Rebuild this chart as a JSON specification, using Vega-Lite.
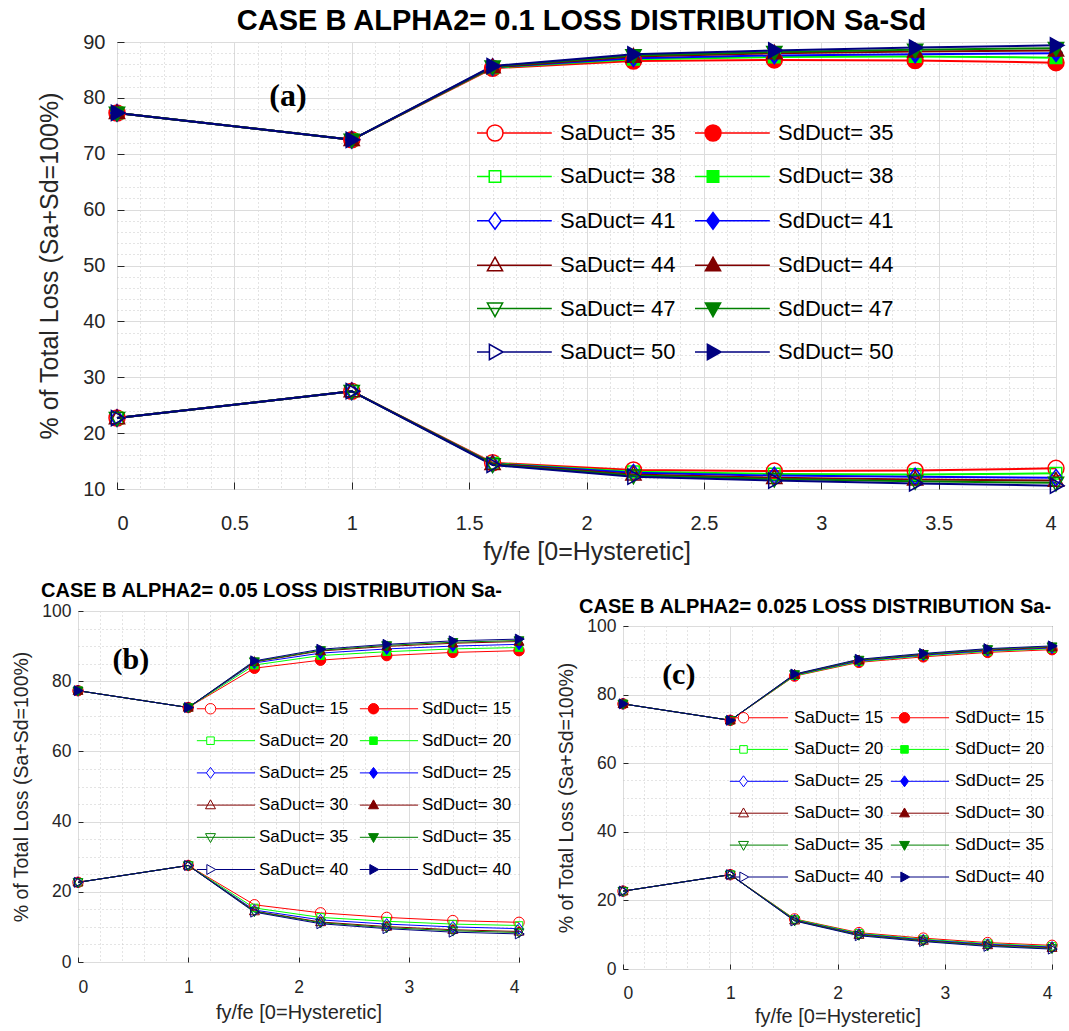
{
"$schema": "https://vega.github.io/schema/vega-lite/v6.json",
"padding": {"left": 11, "top": 6, "right": 0, "bottom": 0},
"config": {
  "font": "Liberation Sans",
  "view": {"stroke": "#262626", "strokeWidth": 1},
  "axis": {"labelFont": "Liberation Sans", "titleFont": "Liberation Sans", "labelColor": "#262626", "titleColor": "#262626", "titleFontWeight": "normal", "domain": false, "tickColor": "#262626", "gridOpacity": 1, "labelOverlap": false, "minExtent": 0},
  "legend": {"labelFont": "Liberation Sans", "labelColor": "#000000"},
  "title": {"font": "Liberation Sans", "fontWeight": "bold", "color": "#000000"}
},
"datasets": {
"a": [
{"x":0,"s":"SaDuct= 35","y":22.7},{"x":1,"s":"SaDuct= 35","y":27.5},{"x":1.6,"s":"SaDuct= 35","y":14.7},{"x":2.2,"s":"SaDuct= 35","y":13.4},{"x":2.8,"s":"SaDuct= 35","y":13.2},{"x":3.4,"s":"SaDuct= 35","y":13.3},{"x":4,"s":"SaDuct= 35","y":13.7},
{"x":0,"s":"SdDuct= 35","y":77.3},{"x":1,"s":"SdDuct= 35","y":72.5},{"x":1.6,"s":"SdDuct= 35","y":85.3},{"x":2.2,"s":"SdDuct= 35","y":86.6},{"x":2.8,"s":"SdDuct= 35","y":86.8},{"x":3.4,"s":"SdDuct= 35","y":86.7},{"x":4,"s":"SdDuct= 35","y":86.3},
{"x":0,"s":"SaDuct= 38","y":22.7},{"x":1,"s":"SaDuct= 38","y":27.5},{"x":1.6,"s":"SaDuct= 38","y":14.6},{"x":2.2,"s":"SaDuct= 38","y":13.1},{"x":2.8,"s":"SaDuct= 38","y":12.7},{"x":3.4,"s":"SaDuct= 38","y":12.6},{"x":4,"s":"SaDuct= 38","y":12.8},
{"x":0,"s":"SdDuct= 38","y":77.3},{"x":1,"s":"SdDuct= 38","y":72.5},{"x":1.6,"s":"SdDuct= 38","y":85.4},{"x":2.2,"s":"SdDuct= 38","y":86.9},{"x":2.8,"s":"SdDuct= 38","y":87.3},{"x":3.4,"s":"SdDuct= 38","y":87.4},{"x":4,"s":"SdDuct= 38","y":87.2},
{"x":0,"s":"SaDuct= 41","y":22.7},{"x":1,"s":"SaDuct= 41","y":27.5},{"x":1.6,"s":"SaDuct= 41","y":14.5},{"x":2.2,"s":"SaDuct= 41","y":12.9},{"x":2.8,"s":"SaDuct= 41","y":12.4},{"x":3.4,"s":"SaDuct= 41","y":12.2},{"x":4,"s":"SaDuct= 41","y":12.0},
{"x":0,"s":"SdDuct= 41","y":77.3},{"x":1,"s":"SdDuct= 41","y":72.5},{"x":1.6,"s":"SdDuct= 41","y":85.5},{"x":2.2,"s":"SdDuct= 41","y":87.1},{"x":2.8,"s":"SdDuct= 41","y":87.6},{"x":3.4,"s":"SdDuct= 41","y":87.8},{"x":4,"s":"SdDuct= 41","y":88.0},
{"x":0,"s":"SaDuct= 44","y":22.7},{"x":1,"s":"SaDuct= 44","y":27.5},{"x":1.6,"s":"SaDuct= 44","y":14.5},{"x":2.2,"s":"SaDuct= 44","y":12.6},{"x":2.8,"s":"SaDuct= 44","y":12.0},{"x":3.4,"s":"SaDuct= 44","y":11.7},{"x":4,"s":"SaDuct= 44","y":11.5},
{"x":0,"s":"SdDuct= 44","y":77.3},{"x":1,"s":"SdDuct= 44","y":72.5},{"x":1.6,"s":"SdDuct= 44","y":85.5},{"x":2.2,"s":"SdDuct= 44","y":87.4},{"x":2.8,"s":"SdDuct= 44","y":88.0},{"x":3.4,"s":"SdDuct= 44","y":88.3},{"x":4,"s":"SdDuct= 44","y":88.5},
{"x":0,"s":"SaDuct= 47","y":22.7},{"x":1,"s":"SaDuct= 47","y":27.5},{"x":1.6,"s":"SaDuct= 47","y":14.4},{"x":2.2,"s":"SaDuct= 47","y":12.4},{"x":2.8,"s":"SaDuct= 47","y":11.8},{"x":3.4,"s":"SaDuct= 47","y":11.4},{"x":4,"s":"SaDuct= 47","y":11.1},
{"x":0,"s":"SdDuct= 47","y":77.3},{"x":1,"s":"SdDuct= 47","y":72.5},{"x":1.6,"s":"SdDuct= 47","y":85.6},{"x":2.2,"s":"SdDuct= 47","y":87.6},{"x":2.8,"s":"SdDuct= 47","y":88.2},{"x":3.4,"s":"SdDuct= 47","y":88.6},{"x":4,"s":"SdDuct= 47","y":88.9},
{"x":0,"s":"SaDuct= 50","y":22.7},{"x":1,"s":"SaDuct= 50","y":27.5},{"x":1.6,"s":"SaDuct= 50","y":14.3},{"x":2.2,"s":"SaDuct= 50","y":12.2},{"x":2.8,"s":"SaDuct= 50","y":11.5},{"x":3.4,"s":"SaDuct= 50","y":11.0},{"x":4,"s":"SaDuct= 50","y":10.6},
{"x":0,"s":"SdDuct= 50","y":77.3},{"x":1,"s":"SdDuct= 50","y":72.5},{"x":1.6,"s":"SdDuct= 50","y":85.7},{"x":2.2,"s":"SdDuct= 50","y":87.8},{"x":2.8,"s":"SdDuct= 50","y":88.5},{"x":3.4,"s":"SdDuct= 50","y":89.0},{"x":4,"s":"SdDuct= 50","y":89.4}
],
"b": [
{"x":0,"s":"SaDuct= 15","y":22.7},{"x":1,"s":"SaDuct= 15","y":27.5},{"x":1.6,"s":"SaDuct= 15","y":16.3},{"x":2.2,"s":"SaDuct= 15","y":14.0},{"x":2.8,"s":"SaDuct= 15","y":12.7},{"x":3.4,"s":"SaDuct= 15","y":11.8},{"x":4,"s":"SaDuct= 15","y":11.3},
{"x":0,"s":"SdDuct= 15","y":77.3},{"x":1,"s":"SdDuct= 15","y":72.5},{"x":1.6,"s":"SdDuct= 15","y":83.7},{"x":2.2,"s":"SdDuct= 15","y":86.0},{"x":2.8,"s":"SdDuct= 15","y":87.3},{"x":3.4,"s":"SdDuct= 15","y":88.2},{"x":4,"s":"SdDuct= 15","y":88.7},
{"x":0,"s":"SaDuct= 20","y":22.7},{"x":1,"s":"SaDuct= 20","y":27.5},{"x":1.6,"s":"SaDuct= 20","y":15.4},{"x":2.2,"s":"SaDuct= 20","y":12.7},{"x":2.8,"s":"SaDuct= 20","y":11.6},{"x":3.4,"s":"SaDuct= 20","y":10.8},{"x":4,"s":"SaDuct= 20","y":10.4},
{"x":0,"s":"SdDuct= 20","y":77.3},{"x":1,"s":"SdDuct= 20","y":72.5},{"x":1.6,"s":"SdDuct= 20","y":84.6},{"x":2.2,"s":"SdDuct= 20","y":87.3},{"x":2.8,"s":"SdDuct= 20","y":88.4},{"x":3.4,"s":"SdDuct= 20","y":89.2},{"x":4,"s":"SdDuct= 20","y":89.6},
{"x":0,"s":"SaDuct= 25","y":22.7},{"x":1,"s":"SaDuct= 25","y":27.5},{"x":1.6,"s":"SaDuct= 25","y":14.8},{"x":2.2,"s":"SaDuct= 25","y":12.0},{"x":2.8,"s":"SaDuct= 25","y":10.8},{"x":3.4,"s":"SaDuct= 25","y":10.0},{"x":4,"s":"SaDuct= 25","y":9.5},
{"x":0,"s":"SdDuct= 25","y":77.3},{"x":1,"s":"SdDuct= 25","y":72.5},{"x":1.6,"s":"SdDuct= 25","y":85.2},{"x":2.2,"s":"SdDuct= 25","y":88.0},{"x":2.8,"s":"SdDuct= 25","y":89.2},{"x":3.4,"s":"SdDuct= 25","y":90.0},{"x":4,"s":"SdDuct= 25","y":90.5},
{"x":0,"s":"SaDuct= 30","y":22.7},{"x":1,"s":"SaDuct= 30","y":27.5},{"x":1.6,"s":"SaDuct= 30","y":14.5},{"x":2.2,"s":"SaDuct= 30","y":11.4},{"x":2.8,"s":"SaDuct= 30","y":10.1},{"x":3.4,"s":"SaDuct= 30","y":9.2},{"x":4,"s":"SaDuct= 30","y":8.7},
{"x":0,"s":"SdDuct= 30","y":77.3},{"x":1,"s":"SdDuct= 30","y":72.5},{"x":1.6,"s":"SdDuct= 30","y":85.5},{"x":2.2,"s":"SdDuct= 30","y":88.6},{"x":2.8,"s":"SdDuct= 30","y":89.9},{"x":3.4,"s":"SdDuct= 30","y":90.8},{"x":4,"s":"SdDuct= 30","y":91.3},
{"x":0,"s":"SaDuct= 35","y":22.7},{"x":1,"s":"SaDuct= 35","y":27.5},{"x":1.6,"s":"SaDuct= 35","y":14.4},{"x":2.2,"s":"SaDuct= 35","y":11.2},{"x":2.8,"s":"SaDuct= 35","y":9.8},{"x":3.4,"s":"SaDuct= 35","y":8.9},{"x":4,"s":"SaDuct= 35","y":8.4},
{"x":0,"s":"SdDuct= 35","y":77.3},{"x":1,"s":"SdDuct= 35","y":72.5},{"x":1.6,"s":"SdDuct= 35","y":85.6},{"x":2.2,"s":"SdDuct= 35","y":88.8},{"x":2.8,"s":"SdDuct= 35","y":90.2},{"x":3.4,"s":"SdDuct= 35","y":91.1},{"x":4,"s":"SdDuct= 35","y":91.6},
{"x":0,"s":"SaDuct= 40","y":22.7},{"x":1,"s":"SaDuct= 40","y":27.5},{"x":1.6,"s":"SaDuct= 40","y":14.2},{"x":2.2,"s":"SaDuct= 40","y":10.9},{"x":2.8,"s":"SaDuct= 40","y":9.5},{"x":3.4,"s":"SaDuct= 40","y":8.5},{"x":4,"s":"SaDuct= 40","y":8.0},
{"x":0,"s":"SdDuct= 40","y":77.3},{"x":1,"s":"SdDuct= 40","y":72.5},{"x":1.6,"s":"SdDuct= 40","y":85.8},{"x":2.2,"s":"SdDuct= 40","y":89.1},{"x":2.8,"s":"SdDuct= 40","y":90.5},{"x":3.4,"s":"SdDuct= 40","y":91.5},{"x":4,"s":"SdDuct= 40","y":92.0}
],
"c": [
{"x":0,"s":"SaDuct= 15","y":22.7},{"x":1,"s":"SaDuct= 15","y":27.5},{"x":1.6,"s":"SaDuct= 15","y":14.6},{"x":2.2,"s":"SaDuct= 15","y":10.6},{"x":2.8,"s":"SaDuct= 15","y":9.0},{"x":3.4,"s":"SaDuct= 15","y":7.7},{"x":4,"s":"SaDuct= 15","y":6.9},
{"x":0,"s":"SdDuct= 15","y":77.3},{"x":1,"s":"SdDuct= 15","y":72.5},{"x":1.6,"s":"SdDuct= 15","y":85.4},{"x":2.2,"s":"SdDuct= 15","y":89.4},{"x":2.8,"s":"SdDuct= 15","y":91.0},{"x":3.4,"s":"SdDuct= 15","y":92.3},{"x":4,"s":"SdDuct= 15","y":93.1},
{"x":0,"s":"SaDuct= 20","y":22.7},{"x":1,"s":"SaDuct= 20","y":27.5},{"x":1.6,"s":"SaDuct= 20","y":14.5},{"x":2.2,"s":"SaDuct= 20","y":10.4},{"x":2.8,"s":"SaDuct= 20","y":8.7},{"x":3.4,"s":"SaDuct= 20","y":7.4},{"x":4,"s":"SaDuct= 20","y":6.6},
{"x":0,"s":"SdDuct= 20","y":77.3},{"x":1,"s":"SdDuct= 20","y":72.5},{"x":1.6,"s":"SdDuct= 20","y":85.5},{"x":2.2,"s":"SdDuct= 20","y":89.6},{"x":2.8,"s":"SdDuct= 20","y":91.3},{"x":3.4,"s":"SdDuct= 20","y":92.6},{"x":4,"s":"SdDuct= 20","y":93.4},
{"x":0,"s":"SaDuct= 25","y":22.7},{"x":1,"s":"SaDuct= 25","y":27.5},{"x":1.6,"s":"SaDuct= 25","y":14.3},{"x":2.2,"s":"SaDuct= 25","y":10.2},{"x":2.8,"s":"SaDuct= 25","y":8.5},{"x":3.4,"s":"SaDuct= 25","y":7.2},{"x":4,"s":"SaDuct= 25","y":6.4},
{"x":0,"s":"SdDuct= 25","y":77.3},{"x":1,"s":"SdDuct= 25","y":72.5},{"x":1.6,"s":"SdDuct= 25","y":85.7},{"x":2.2,"s":"SdDuct= 25","y":89.8},{"x":2.8,"s":"SdDuct= 25","y":91.5},{"x":3.4,"s":"SdDuct= 25","y":92.8},{"x":4,"s":"SdDuct= 25","y":93.6},
{"x":0,"s":"SaDuct= 30","y":22.7},{"x":1,"s":"SaDuct= 30","y":27.5},{"x":1.6,"s":"SaDuct= 30","y":14.2},{"x":2.2,"s":"SaDuct= 30","y":10.0},{"x":2.8,"s":"SaDuct= 30","y":8.3},{"x":3.4,"s":"SaDuct= 30","y":7.0},{"x":4,"s":"SaDuct= 30","y":6.2},
{"x":0,"s":"SdDuct= 30","y":77.3},{"x":1,"s":"SdDuct= 30","y":72.5},{"x":1.6,"s":"SdDuct= 30","y":85.8},{"x":2.2,"s":"SdDuct= 30","y":90.0},{"x":2.8,"s":"SdDuct= 30","y":91.7},{"x":3.4,"s":"SdDuct= 30","y":93.0},{"x":4,"s":"SdDuct= 30","y":93.8},
{"x":0,"s":"SaDuct= 35","y":22.7},{"x":1,"s":"SaDuct= 35","y":27.5},{"x":1.6,"s":"SaDuct= 35","y":14.1},{"x":2.2,"s":"SaDuct= 35","y":9.9},{"x":2.8,"s":"SaDuct= 35","y":8.2},{"x":3.4,"s":"SaDuct= 35","y":6.8},{"x":4,"s":"SaDuct= 35","y":6.0},
{"x":0,"s":"SdDuct= 35","y":77.3},{"x":1,"s":"SdDuct= 35","y":72.5},{"x":1.6,"s":"SdDuct= 35","y":85.9},{"x":2.2,"s":"SdDuct= 35","y":90.1},{"x":2.8,"s":"SdDuct= 35","y":91.8},{"x":3.4,"s":"SdDuct= 35","y":93.2},{"x":4,"s":"SdDuct= 35","y":94.0},
{"x":0,"s":"SaDuct= 40","y":22.7},{"x":1,"s":"SaDuct= 40","y":27.5},{"x":1.6,"s":"SaDuct= 40","y":14.0},{"x":2.2,"s":"SaDuct= 40","y":9.7},{"x":2.8,"s":"SaDuct= 40","y":8.0},{"x":3.4,"s":"SaDuct= 40","y":6.6},{"x":4,"s":"SaDuct= 40","y":5.8},
{"x":0,"s":"SdDuct= 40","y":77.3},{"x":1,"s":"SdDuct= 40","y":72.5},{"x":1.6,"s":"SdDuct= 40","y":86.0},{"x":2.2,"s":"SdDuct= 40","y":90.3},{"x":2.8,"s":"SdDuct= 40","y":92.0},{"x":3.4,"s":"SdDuct= 40","y":93.4},{"x":4,"s":"SdDuct= 40","y":94.2}
]
},
"spacing": 15,
"vconcat": [
{
"spacing": -42,
"hconcat": [
{"width": 1, "height": 1, "data": {"values": []}, "mark": "point", "view": {"stroke": null}},
{
  "width": 939, "height": 447,
  "data": {"name": "a"},
  "title": {"text": "CASE B ALPHA2= 0.1 LOSS DISTRIBUTION Sa-Sd", "fontSize": 29, "anchor": "middle", "frame": "group", "dx": -5, "offset": -4},
  "resolve": {"scale": {"shape": "independent", "stroke": "independent", "fill": "independent"}},
  "layer": [
    {
      "mark": {"type": "line", "strokeWidth": 2},
      "encoding": {
        "x": {"field": "x", "type": "quantitative", "scale": {"domain": [0, 4], "nice": false, "zero": false},
              "axis": {"values": [0,0.1,0.2,0.3,0.4,0.5,0.6,0.7,0.8,0.9,1,1.1,1.2,1.3,1.4,1.5,1.6,1.7,1.8,1.9,2,2.1,2.2,2.3,2.4,2.5,2.6,2.7,2.8,2.9,3,3.1,3.2,3.3,3.4,3.5,3.6,3.7,3.8,3.9,4], "format": "~g", "labelExpr": "datum.value % 0.5 === 0 ? datum.label : ''", "grid": true, "gridColor": {"condition": {"test": "datum.value % 0.5 !== 0", "value": "#c8c8c8"}, "value": "#dcdcdc"}, "gridDash": {"condition": {"test": "datum.value % 0.5 !== 0", "value": [1, 3]}, "value": []}, "tickOpacity": {"condition": {"test": "datum.value % 0.5 !== 0", "value": 0}, "value": 1}, "tickSize": -7, "labelFontSize": 20, "labelPadding": 31, "title": "fy/fe [0=Hysteretic]", "titleFontSize": 25, "titlePadding": 6}},
        "y": {"field": "y", "type": "quantitative", "scale": {"domain": [10, 90], "nice": false, "zero": false},
              "axis": {"values": [10,12,14,16,18,20,22,24,26,28,30,32,34,36,38,40,42,44,46,48,50,52,54,56,58,60,62,64,66,68,70,72,74,76,78,80,82,84,86,88,90], "labelExpr": "datum.value % 10 === 0 ? datum.label : ''", "grid": true, "gridColor": {"condition": {"test": "datum.value % 10 !== 0", "value": "#c8c8c8"}, "value": "#dcdcdc"}, "gridDash": {"condition": {"test": "datum.value % 10 !== 0", "value": [1, 3]}, "value": []}, "tickOpacity": {"condition": {"test": "datum.value % 10 !== 0", "value": 0}, "value": 1}, "tickSize": -7, "labelFontSize": 20, "labelPadding": 19, "title": "% of Total Loss (Sa+Sd=100%)", "titleFontSize": 25, "titlePadding": 20}},
        "stroke": {"field": "s", "type": "nominal", "legend": null,
          "scale": {"domain": ["SaDuct= 35","SaDuct= 38","SaDuct= 41","SaDuct= 44","SaDuct= 47","SaDuct= 50","SdDuct= 35","SdDuct= 38","SdDuct= 41","SdDuct= 44","SdDuct= 47","SdDuct= 50"],
                    "range": ["#ff0000","#00ff00","#0000ff","#800000","#008000","#000080","#ff0000","#00ff00","#0000ff","#800000","#008000","#000080"]}}
      }
    },
    {
      "mark": {"type": "point", "size": 256, "strokeWidth": 1.5, "opacity": 1},
      "encoding": {
        "x": {"field": "x", "type": "quantitative", "scale": {"domain": [0, 4], "nice": false, "zero": false},
              "axis": {"values": [0,0.1,0.2,0.3,0.4,0.5,0.6,0.7,0.8,0.9,1,1.1,1.2,1.3,1.4,1.5,1.6,1.7,1.8,1.9,2,2.1,2.2,2.3,2.4,2.5,2.6,2.7,2.8,2.9,3,3.1,3.2,3.3,3.4,3.5,3.6,3.7,3.8,3.9,4], "format": "~g", "labelExpr": "datum.value % 0.5 === 0 ? datum.label : ''", "grid": true, "gridColor": {"condition": {"test": "datum.value % 0.5 !== 0", "value": "#c8c8c8"}, "value": "#dcdcdc"}, "gridDash": {"condition": {"test": "datum.value % 0.5 !== 0", "value": [1, 3]}, "value": []}, "tickOpacity": {"condition": {"test": "datum.value % 0.5 !== 0", "value": 0}, "value": 1}, "tickSize": -7, "labelFontSize": 20, "labelPadding": 31, "title": "fy/fe [0=Hysteretic]", "titleFontSize": 25, "titlePadding": 6}},
        "y": {"field": "y", "type": "quantitative", "scale": {"domain": [10, 90], "nice": false, "zero": false},
              "axis": {"values": [10,12,14,16,18,20,22,24,26,28,30,32,34,36,38,40,42,44,46,48,50,52,54,56,58,60,62,64,66,68,70,72,74,76,78,80,82,84,86,88,90], "labelExpr": "datum.value % 10 === 0 ? datum.label : ''", "grid": true, "gridColor": {"condition": {"test": "datum.value % 10 !== 0", "value": "#c8c8c8"}, "value": "#dcdcdc"}, "gridDash": {"condition": {"test": "datum.value % 10 !== 0", "value": [1, 3]}, "value": []}, "tickOpacity": {"condition": {"test": "datum.value % 10 !== 0", "value": 0}, "value": 1}, "tickSize": -7, "labelFontSize": 20, "labelPadding": 19, "title": "% of Total Loss (Sa+Sd=100%)", "titleFontSize": 25, "titlePadding": 20}},
        "shape": {"field": "s", "type": "nominal", "legend": null,
          "scale": {"domain": ["SaDuct= 35","SaDuct= 38","SaDuct= 41","SaDuct= 44","SaDuct= 47","SaDuct= 50","SdDuct= 35","SdDuct= 38","SdDuct= 41","SdDuct= 44","SdDuct= 47","SdDuct= 50"],
                    "range": ["M1,0A1,1,0,1,1,-1,0A1,1,0,1,1,1,0Z","M-0.72,-0.72L0.72,-0.72L0.72,0.72L-0.72,0.72Z","M0,-1.05L0.78,0L0,1.05L-0.78,0Z","M0,-1L0.95,0.7L-0.95,0.7Z","M0,1L0.95,-0.7L-0.95,-0.7Z","M1,0L-0.7,-0.95L-0.7,0.95Z","M1,0A1,1,0,1,1,-1,0A1,1,0,1,1,1,0Z","M-0.72,-0.72L0.72,-0.72L0.72,0.72L-0.72,0.72Z","M0,-1.05L0.78,0L0,1.05L-0.78,0Z","M0,-1L0.95,0.7L-0.95,0.7Z","M0,1L0.95,-0.7L-0.95,-0.7Z","M1,0L-0.7,-0.95L-0.7,0.95Z"]}},
        "stroke": {"field": "s", "type": "nominal", "legend": null,
          "scale": {"domain": ["SaDuct= 35","SaDuct= 38","SaDuct= 41","SaDuct= 44","SaDuct= 47","SaDuct= 50","SdDuct= 35","SdDuct= 38","SdDuct= 41","SdDuct= 44","SdDuct= 47","SdDuct= 50"],
                    "range": ["#ff0000","#00ff00","#0000ff","#800000","#008000","#000080","#ff0000","#00ff00","#0000ff","#800000","#008000","#000080"]}},
        "fill": {"field": "s", "type": "nominal", "legend": null,
          "scale": {"domain": ["SaDuct= 35","SaDuct= 38","SaDuct= 41","SaDuct= 44","SaDuct= 47","SaDuct= 50","SdDuct= 35","SdDuct= 38","SdDuct= 41","SdDuct= 44","SdDuct= 47","SdDuct= 50"],
                    "range": ["transparent","transparent","transparent","transparent","transparent","transparent","#ff0000","#00ff00","#0000ff","#800000","#008000","#000080"]}}
      }
    },
    {
      "transform": [{"filter": "datum.x > 100"}],
      "mark": {"type": "point", "size": 256, "strokeWidth": 1.5, "opacity": 1},
      "encoding": {
        "x": {"field": "x", "type": "quantitative", "scale": {"domain": [0, 4], "nice": false, "zero": false},
              "axis": {"values": [0,0.1,0.2,0.3,0.4,0.5,0.6,0.7,0.8,0.9,1,1.1,1.2,1.3,1.4,1.5,1.6,1.7,1.8,1.9,2,2.1,2.2,2.3,2.4,2.5,2.6,2.7,2.8,2.9,3,3.1,3.2,3.3,3.4,3.5,3.6,3.7,3.8,3.9,4], "format": "~g", "labelExpr": "datum.value % 0.5 === 0 ? datum.label : ''", "grid": true, "gridColor": {"condition": {"test": "datum.value % 0.5 !== 0", "value": "#c8c8c8"}, "value": "#dcdcdc"}, "gridDash": {"condition": {"test": "datum.value % 0.5 !== 0", "value": [1, 3]}, "value": []}, "tickOpacity": {"condition": {"test": "datum.value % 0.5 !== 0", "value": 0}, "value": 1}, "tickSize": -7, "labelFontSize": 20, "labelPadding": 31, "title": "fy/fe [0=Hysteretic]", "titleFontSize": 25, "titlePadding": 6}},
        "y": {"field": "y", "type": "quantitative", "scale": {"domain": [10, 90], "nice": false, "zero": false},
              "axis": {"values": [10,12,14,16,18,20,22,24,26,28,30,32,34,36,38,40,42,44,46,48,50,52,54,56,58,60,62,64,66,68,70,72,74,76,78,80,82,84,86,88,90], "labelExpr": "datum.value % 10 === 0 ? datum.label : ''", "grid": true, "gridColor": {"condition": {"test": "datum.value % 10 !== 0", "value": "#c8c8c8"}, "value": "#dcdcdc"}, "gridDash": {"condition": {"test": "datum.value % 10 !== 0", "value": [1, 3]}, "value": []}, "tickOpacity": {"condition": {"test": "datum.value % 10 !== 0", "value": 0}, "value": 1}, "tickSize": -7, "labelFontSize": 20, "labelPadding": 19, "title": "% of Total Loss (Sa+Sd=100%)", "titleFontSize": 25, "titlePadding": 20}},
        "shape": {"field": "s", "type": "nominal",
          "legend": {"title": null, "orient": "none", "legendX": 367, "legendY": 80, "columns": 2, "columnPadding": 16, "rowPadding": 21.4, "labelFontSize": 22, "labelOffset": 54, "symbolSize": 256, "symbolStrokeWidth": 1.5, "symbolOpacity": 1, "padding": 0},
          "scale": {"domain": ["SaDuct= 35","SaDuct= 38","SaDuct= 41","SaDuct= 44","SaDuct= 47","SaDuct= 50","SdDuct= 35","SdDuct= 38","SdDuct= 41","SdDuct= 44","SdDuct= 47","SdDuct= 50"],
                    "range": ["M-2.25,0L-1,0M1,0L7.1,0M1,0A1,1,0,1,1,-1,0A1,1,0,1,1,1,0Z","M-2.25,0L-0.72,0M0.72,0L7.1,0M-0.72,-0.72L0.72,-0.72L0.72,0.72L-0.72,0.72Z","M-2.25,0L-0.78,0M0.78,0L7.1,0M0,-1.05L0.78,0L0,1.05L-0.78,0Z","M-2.25,0L7.1,0M0,-1L0.95,0.7L-0.95,0.7Z","M-2.25,0L7.1,0M0,1L0.95,-0.7L-0.95,-0.7Z","M-2.25,0L-0.7,0M1,0L7.1,0M1,0L-0.7,-0.95L-0.7,0.95Z","M-2.25,0L-1,0M1,0L7.1,0M1,0A1,1,0,1,1,-1,0A1,1,0,1,1,1,0Z","M-2.25,0L-0.72,0M0.72,0L7.1,0M-0.72,-0.72L0.72,-0.72L0.72,0.72L-0.72,0.72Z","M-2.25,0L-0.78,0M0.78,0L7.1,0M0,-1.05L0.78,0L0,1.05L-0.78,0Z","M-2.25,0L7.1,0M0,-1L0.95,0.7L-0.95,0.7Z","M-2.25,0L7.1,0M0,1L0.95,-0.7L-0.95,-0.7Z","M-2.25,0L-0.7,0M1,0L7.1,0M1,0L-0.7,-0.95L-0.7,0.95Z"]}},
        "stroke": {"field": "s", "type": "nominal",
          "legend": {"title": null, "orient": "none", "legendX": 367, "legendY": 80, "columns": 2, "columnPadding": 16, "rowPadding": 21.4, "labelFontSize": 22, "labelOffset": 54, "symbolSize": 256, "symbolStrokeWidth": 1.5, "symbolOpacity": 1, "padding": 0},
          "scale": {"domain": ["SaDuct= 35","SaDuct= 38","SaDuct= 41","SaDuct= 44","SaDuct= 47","SaDuct= 50","SdDuct= 35","SdDuct= 38","SdDuct= 41","SdDuct= 44","SdDuct= 47","SdDuct= 50"],
                    "range": ["#ff0000","#00ff00","#0000ff","#800000","#008000","#000080","#ff0000","#00ff00","#0000ff","#800000","#008000","#000080"]}},
        "fill": {"field": "s", "type": "nominal",
          "legend": {"title": null, "orient": "none", "legendX": 367, "legendY": 80, "columns": 2, "columnPadding": 16, "rowPadding": 21.4, "labelFontSize": 22, "labelOffset": 54, "symbolSize": 256, "symbolStrokeWidth": 1.5, "symbolOpacity": 1, "padding": 0},
          "scale": {"domain": ["SaDuct= 35","SaDuct= 38","SaDuct= 41","SaDuct= 44","SaDuct= 47","SaDuct= 50","SdDuct= 35","SdDuct= 38","SdDuct= 41","SdDuct= 44","SdDuct= 47","SdDuct= 50"],
                    "range": ["transparent","transparent","transparent","transparent","transparent","transparent","#ff0000","#00ff00","#0000ff","#800000","#008000","#000080"]}}
      }
    },
    {
      "data": {"values": [{"label": "(a)"}]},
      "mark": {"type": "text", "font": "Liberation Serif", "fontWeight": "bold", "fontSize": 32, "color": "#000000"},
      "encoding": {
        "x": {"datum": 0.728, "type": "quantitative", "scale": {"domain": [0, 4], "nice": false, "zero": false},
              "axis": {"values": [0,0.1,0.2,0.3,0.4,0.5,0.6,0.7,0.8,0.9,1,1.1,1.2,1.3,1.4,1.5,1.6,1.7,1.8,1.9,2,2.1,2.2,2.3,2.4,2.5,2.6,2.7,2.8,2.9,3,3.1,3.2,3.3,3.4,3.5,3.6,3.7,3.8,3.9,4], "format": "~g", "labelExpr": "datum.value % 0.5 === 0 ? datum.label : ''", "grid": true, "gridColor": {"condition": {"test": "datum.value % 0.5 !== 0", "value": "#c8c8c8"}, "value": "#dcdcdc"}, "gridDash": {"condition": {"test": "datum.value % 0.5 !== 0", "value": [1, 3]}, "value": []}, "tickOpacity": {"condition": {"test": "datum.value % 0.5 !== 0", "value": 0}, "value": 1}, "tickSize": -7, "labelFontSize": 20, "labelPadding": 31, "title": "fy/fe [0=Hysteretic]", "titleFontSize": 25, "titlePadding": 6}},
        "y": {"datum": 80.3, "type": "quantitative", "scale": {"domain": [10, 90], "nice": false, "zero": false},
              "axis": {"values": [10,12,14,16,18,20,22,24,26,28,30,32,34,36,38,40,42,44,46,48,50,52,54,56,58,60,62,64,66,68,70,72,74,76,78,80,82,84,86,88,90], "labelExpr": "datum.value % 10 === 0 ? datum.label : ''", "grid": true, "gridColor": {"condition": {"test": "datum.value % 10 !== 0", "value": "#c8c8c8"}, "value": "#dcdcdc"}, "gridDash": {"condition": {"test": "datum.value % 10 !== 0", "value": [1, 3]}, "value": []}, "tickOpacity": {"condition": {"test": "datum.value % 10 !== 0", "value": 0}, "value": 1}, "tickSize": -7, "labelFontSize": 20, "labelPadding": 19, "title": "% of Total Loss (Sa+Sd=100%)", "titleFontSize": 25, "titlePadding": 20}},
        "text": {"field": "label", "type": "nominal"}
      }
    }
  ]
}
]
},
{
  "spacing": 29,
  "hconcat": [
  {
    "width": 441, "height": 351,
    "data": {"name": "b"},
    "title": {"text": "CASE B ALPHA2= 0.05 LOSS DISTRIBUTION Sa-", "fontSize": 20, "anchor": "start", "frame": "group", "dx": -37, "offset": 1},
    "resolve": {"scale": {"shape": "independent", "stroke": "independent", "fill": "independent"}},
    "layer": [
      {
        "mark": {"type": "line", "strokeWidth": 1},
        "encoding": {
          "x": {"field": "x", "type": "quantitative", "scale": {"domain": [0, 4], "nice": false, "zero": false},
                "axis": {"values": [0,0.2,0.4,0.6,0.8,1,1.2,1.4,1.6,1.8,2,2.2,2.4,2.6,2.8,3,3.2,3.4,3.6,3.8,4], "format": "~g", "labelExpr": "datum.value % 1 === 0 ? datum.label : ''", "grid": true, "gridColor": {"condition": {"test": "datum.value % 1 !== 0", "value": "#c8c8c8"}, "value": "#dcdcdc"}, "gridDash": {"condition": {"test": "datum.value % 1 !== 0", "value": [1, 3]}, "value": []}, "tickOpacity": {"condition": {"test": "datum.value % 1 !== 0", "value": 0}, "value": 1}, "tickSize": -5, "labelFontSize": 17.5, "labelPadding": 21, "title": "fy/fe [0=Hysteretic]", "titleFontSize": 20, "titlePadding": 7}},
          "y": {"field": "y", "type": "quantitative", "scale": {"domain": [0, 100], "nice": false, "zero": false},
                "axis": {"values": [0,5,10,15,20,25,30,35,40,45,50,55,60,65,70,75,80,85,90,95,100], "labelExpr": "datum.value % 20 === 0 ? datum.label : ''", "grid": true, "gridColor": {"condition": {"test": "datum.value % 20 !== 0", "value": "#c8c8c8"}, "value": "#dcdcdc"}, "gridDash": {"condition": {"test": "datum.value % 20 !== 0", "value": [1, 3]}, "value": []}, "tickOpacity": {"condition": {"test": "datum.value % 20 !== 0", "value": 0}, "value": 1}, "tickSize": -5, "labelFontSize": 17.5, "labelPadding": 12, "title": "% of Total Loss (Sa+Sd=100%)", "titleFontSize": 19.5, "titlePadding": 10}},
          "stroke": {"field": "s", "type": "nominal", "legend": null,
            "scale": {"domain": ["SaDuct= 15","SaDuct= 20","SaDuct= 25","SaDuct= 30","SaDuct= 35","SaDuct= 40","SdDuct= 15","SdDuct= 20","SdDuct= 25","SdDuct= 30","SdDuct= 35","SdDuct= 40"],
                      "range": ["#ff0000","#00ff00","#0000ff","#800000","#008000","#000080","#ff0000","#00ff00","#0000ff","#800000","#008000","#000080"]}}
        }
      },
      {
        "mark": {"type": "point", "size": 110, "strokeWidth": 1, "opacity": 1},
        "encoding": {
          "x": {"field": "x", "type": "quantitative", "scale": {"domain": [0, 4], "nice": false, "zero": false},
                "axis": {"values": [0,0.2,0.4,0.6,0.8,1,1.2,1.4,1.6,1.8,2,2.2,2.4,2.6,2.8,3,3.2,3.4,3.6,3.8,4], "format": "~g", "labelExpr": "datum.value % 1 === 0 ? datum.label : ''", "grid": true, "gridColor": {"condition": {"test": "datum.value % 1 !== 0", "value": "#c8c8c8"}, "value": "#dcdcdc"}, "gridDash": {"condition": {"test": "datum.value % 1 !== 0", "value": [1, 3]}, "value": []}, "tickOpacity": {"condition": {"test": "datum.value % 1 !== 0", "value": 0}, "value": 1}, "tickSize": -5, "labelFontSize": 17.5, "labelPadding": 21, "title": "fy/fe [0=Hysteretic]", "titleFontSize": 20, "titlePadding": 7}},
          "y": {"field": "y", "type": "quantitative", "scale": {"domain": [0, 100], "nice": false, "zero": false},
                "axis": {"values": [0,5,10,15,20,25,30,35,40,45,50,55,60,65,70,75,80,85,90,95,100], "labelExpr": "datum.value % 20 === 0 ? datum.label : ''", "grid": true, "gridColor": {"condition": {"test": "datum.value % 20 !== 0", "value": "#c8c8c8"}, "value": "#dcdcdc"}, "gridDash": {"condition": {"test": "datum.value % 20 !== 0", "value": [1, 3]}, "value": []}, "tickOpacity": {"condition": {"test": "datum.value % 20 !== 0", "value": 0}, "value": 1}, "tickSize": -5, "labelFontSize": 17.5, "labelPadding": 12, "title": "% of Total Loss (Sa+Sd=100%)", "titleFontSize": 19.5, "titlePadding": 10}},
          "shape": {"field": "s", "type": "nominal", "legend": null,
            "scale": {"domain": ["SaDuct= 15","SaDuct= 20","SaDuct= 25","SaDuct= 30","SaDuct= 35","SaDuct= 40","SdDuct= 15","SdDuct= 20","SdDuct= 25","SdDuct= 30","SdDuct= 35","SdDuct= 40"],
                      "range": ["M1,0A1,1,0,1,1,-1,0A1,1,0,1,1,1,0Z","M-0.72,-0.72L0.72,-0.72L0.72,0.72L-0.72,0.72Z","M0,-1.05L0.78,0L0,1.05L-0.78,0Z","M0,-1L0.95,0.7L-0.95,0.7Z","M0,1L0.95,-0.7L-0.95,-0.7Z","M1,0L-0.7,-0.95L-0.7,0.95Z","M1,0A1,1,0,1,1,-1,0A1,1,0,1,1,1,0Z","M-0.72,-0.72L0.72,-0.72L0.72,0.72L-0.72,0.72Z","M0,-1.05L0.78,0L0,1.05L-0.78,0Z","M0,-1L0.95,0.7L-0.95,0.7Z","M0,1L0.95,-0.7L-0.95,-0.7Z","M1,0L-0.7,-0.95L-0.7,0.95Z"]}},
          "stroke": {"field": "s", "type": "nominal", "legend": null,
            "scale": {"domain": ["SaDuct= 15","SaDuct= 20","SaDuct= 25","SaDuct= 30","SaDuct= 35","SaDuct= 40","SdDuct= 15","SdDuct= 20","SdDuct= 25","SdDuct= 30","SdDuct= 35","SdDuct= 40"],
                      "range": ["#ff0000","#00ff00","#0000ff","#800000","#008000","#000080","#ff0000","#00ff00","#0000ff","#800000","#008000","#000080"]}},
          "fill": {"field": "s", "type": "nominal", "legend": null,
            "scale": {"domain": ["SaDuct= 15","SaDuct= 20","SaDuct= 25","SaDuct= 30","SaDuct= 35","SaDuct= 40","SdDuct= 15","SdDuct= 20","SdDuct= 25","SdDuct= 30","SdDuct= 35","SdDuct= 40"],
                      "range": ["transparent","transparent","transparent","transparent","transparent","transparent","#ff0000","#00ff00","#0000ff","#800000","#008000","#000080"]}}
        }
      },
      {
        "transform": [{"filter": "datum.x > 100"}],
        "mark": {"type": "point", "size": 110, "strokeWidth": 1, "opacity": 1},
        "encoding": {
          "x": {"field": "x", "type": "quantitative", "scale": {"domain": [0, 4], "nice": false, "zero": false},
                "axis": {"values": [0,0.2,0.4,0.6,0.8,1,1.2,1.4,1.6,1.8,2,2.2,2.4,2.6,2.8,3,3.2,3.4,3.6,3.8,4], "format": "~g", "labelExpr": "datum.value % 1 === 0 ? datum.label : ''", "grid": true, "gridColor": {"condition": {"test": "datum.value % 1 !== 0", "value": "#c8c8c8"}, "value": "#dcdcdc"}, "gridDash": {"condition": {"test": "datum.value % 1 !== 0", "value": [1, 3]}, "value": []}, "tickOpacity": {"condition": {"test": "datum.value % 1 !== 0", "value": 0}, "value": 1}, "tickSize": -5, "labelFontSize": 17.5, "labelPadding": 21, "title": "fy/fe [0=Hysteretic]", "titleFontSize": 20, "titlePadding": 7}},
          "y": {"field": "y", "type": "quantitative", "scale": {"domain": [0, 100], "nice": false, "zero": false},
                "axis": {"values": [0,5,10,15,20,25,30,35,40,45,50,55,60,65,70,75,80,85,90,95,100], "labelExpr": "datum.value % 20 === 0 ? datum.label : ''", "grid": true, "gridColor": {"condition": {"test": "datum.value % 20 !== 0", "value": "#c8c8c8"}, "value": "#dcdcdc"}, "gridDash": {"condition": {"test": "datum.value % 20 !== 0", "value": [1, 3]}, "value": []}, "tickOpacity": {"condition": {"test": "datum.value % 20 !== 0", "value": 0}, "value": 1}, "tickSize": -5, "labelFontSize": 17.5, "labelPadding": 12, "title": "% of Total Loss (Sa+Sd=100%)", "titleFontSize": 19.5, "titlePadding": 10}},
          "shape": {"field": "s", "type": "nominal",
            "legend": {"title": null, "orient": "none", "legendX": 124, "legendY": 89, "columns": 2, "columnPadding": 8, "rowPadding": 14.2, "labelFontSize": 17, "labelOffset": 40, "symbolSize": 110, "symbolStrokeWidth": 1, "symbolOpacity": 1, "padding": 0},
            "scale": {"domain": ["SaDuct= 15","SaDuct= 20","SaDuct= 25","SaDuct= 30","SaDuct= 35","SaDuct= 40","SdDuct= 15","SdDuct= 20","SdDuct= 25","SdDuct= 30","SdDuct= 35","SdDuct= 40"],
                      "range": ["M-2.6,0L-1,0M1,0L8.5,0M1,0A1,1,0,1,1,-1,0A1,1,0,1,1,1,0Z","M-2.6,0L-0.72,0M0.72,0L8.5,0M-0.72,-0.72L0.72,-0.72L0.72,0.72L-0.72,0.72Z","M-2.6,0L-0.78,0M0.78,0L8.5,0M0,-1.05L0.78,0L0,1.05L-0.78,0Z","M-2.6,0L8.5,0M0,-1L0.95,0.7L-0.95,0.7Z","M-2.6,0L8.5,0M0,1L0.95,-0.7L-0.95,-0.7Z","M-2.6,0L-0.7,0M1,0L8.5,0M1,0L-0.7,-0.95L-0.7,0.95Z","M-2.6,0L-1,0M1,0L8.5,0M1,0A1,1,0,1,1,-1,0A1,1,0,1,1,1,0Z","M-2.6,0L-0.72,0M0.72,0L8.5,0M-0.72,-0.72L0.72,-0.72L0.72,0.72L-0.72,0.72Z","M-2.6,0L-0.78,0M0.78,0L8.5,0M0,-1.05L0.78,0L0,1.05L-0.78,0Z","M-2.6,0L8.5,0M0,-1L0.95,0.7L-0.95,0.7Z","M-2.6,0L8.5,0M0,1L0.95,-0.7L-0.95,-0.7Z","M-2.6,0L-0.7,0M1,0L8.5,0M1,0L-0.7,-0.95L-0.7,0.95Z"]}},
          "stroke": {"field": "s", "type": "nominal",
            "legend": {"title": null, "orient": "none", "legendX": 124, "legendY": 89, "columns": 2, "columnPadding": 8, "rowPadding": 14.2, "labelFontSize": 17, "labelOffset": 40, "symbolSize": 110, "symbolStrokeWidth": 1, "symbolOpacity": 1, "padding": 0},
            "scale": {"domain": ["SaDuct= 15","SaDuct= 20","SaDuct= 25","SaDuct= 30","SaDuct= 35","SaDuct= 40","SdDuct= 15","SdDuct= 20","SdDuct= 25","SdDuct= 30","SdDuct= 35","SdDuct= 40"],
                      "range": ["#ff0000","#00ff00","#0000ff","#800000","#008000","#000080","#ff0000","#00ff00","#0000ff","#800000","#008000","#000080"]}},
          "fill": {"field": "s", "type": "nominal",
            "legend": {"title": null, "orient": "none", "legendX": 124, "legendY": 89, "columns": 2, "columnPadding": 8, "rowPadding": 14.2, "labelFontSize": 17, "labelOffset": 40, "symbolSize": 110, "symbolStrokeWidth": 1, "symbolOpacity": 1, "padding": 0},
            "scale": {"domain": ["SaDuct= 15","SaDuct= 20","SaDuct= 25","SaDuct= 30","SaDuct= 35","SaDuct= 40","SdDuct= 15","SdDuct= 20","SdDuct= 25","SdDuct= 30","SdDuct= 35","SdDuct= 40"],
                      "range": ["transparent","transparent","transparent","transparent","transparent","transparent","#ff0000","#00ff00","#0000ff","#800000","#008000","#000080"]}}
        }
      },
      {
        "data": {"values": [{"label": "(b)"}]},
        "mark": {"type": "text", "font": "Liberation Serif", "fontWeight": "bold", "fontSize": 30, "color": "#000000"},
        "encoding": {
          "x": {"datum": 0.48, "type": "quantitative", "scale": {"domain": [0, 4], "nice": false, "zero": false},
                "axis": {"values": [0,0.2,0.4,0.6,0.8,1,1.2,1.4,1.6,1.8,2,2.2,2.4,2.6,2.8,3,3.2,3.4,3.6,3.8,4], "format": "~g", "labelExpr": "datum.value % 1 === 0 ? datum.label : ''", "grid": true, "gridColor": {"condition": {"test": "datum.value % 1 !== 0", "value": "#c8c8c8"}, "value": "#dcdcdc"}, "gridDash": {"condition": {"test": "datum.value % 1 !== 0", "value": [1, 3]}, "value": []}, "tickOpacity": {"condition": {"test": "datum.value % 1 !== 0", "value": 0}, "value": 1}, "tickSize": -5, "labelFontSize": 17.5, "labelPadding": 21, "title": "fy/fe [0=Hysteretic]", "titleFontSize": 20, "titlePadding": 7}},
          "y": {"datum": 86.0, "type": "quantitative", "scale": {"domain": [0, 100], "nice": false, "zero": false},
                "axis": {"values": [0,5,10,15,20,25,30,35,40,45,50,55,60,65,70,75,80,85,90,95,100], "labelExpr": "datum.value % 20 === 0 ? datum.label : ''", "grid": true, "gridColor": {"condition": {"test": "datum.value % 20 !== 0", "value": "#c8c8c8"}, "value": "#dcdcdc"}, "gridDash": {"condition": {"test": "datum.value % 20 !== 0", "value": [1, 3]}, "value": []}, "tickOpacity": {"condition": {"test": "datum.value % 20 !== 0", "value": 0}, "value": 1}, "tickSize": -5, "labelFontSize": 17.5, "labelPadding": 12, "title": "% of Total Loss (Sa+Sd=100%)", "titleFontSize": 19.5, "titlePadding": 10}},
          "text": {"field": "label", "type": "nominal"}
        }
      }
    ]
  },
  {
    "spacing": -16,
    "vconcat": [
    {"width": 1, "height": 1, "data": {"values": []}, "mark": "point", "view": {"stroke": null}},
    {
    "width": 429, "height": 343,
    "data": {"name": "c"},
    "title": {"text": "CASE B ALPHA2= 0.025 LOSS DISTRIBUTION Sa-", "fontSize": 20, "anchor": "start", "frame": "group", "dx": -44, "offset": 0},
    "resolve": {"scale": {"shape": "independent", "stroke": "independent", "fill": "independent"}},
    "layer": [
      {
        "mark": {"type": "line", "strokeWidth": 1},
        "encoding": {
          "x": {"field": "x", "type": "quantitative", "scale": {"domain": [0, 4], "nice": false, "zero": false},
                "axis": {"values": [0,0.2,0.4,0.6,0.8,1,1.2,1.4,1.6,1.8,2,2.2,2.4,2.6,2.8,3,3.2,3.4,3.6,3.8,4], "format": "~g", "labelExpr": "datum.value % 1 === 0 ? datum.label : ''", "grid": true, "gridColor": {"condition": {"test": "datum.value % 1 !== 0", "value": "#c8c8c8"}, "value": "#dcdcdc"}, "gridDash": {"condition": {"test": "datum.value % 1 !== 0", "value": [1, 3]}, "value": []}, "tickOpacity": {"condition": {"test": "datum.value % 1 !== 0", "value": 0}, "value": 1}, "tickSize": -5, "labelFontSize": 17.5, "labelPadding": 20, "title": "fy/fe [0=Hysteretic]", "titleFontSize": 20, "titlePadding": 5}},
          "y": {"field": "y", "type": "quantitative", "scale": {"domain": [0, 100], "nice": false, "zero": false},
                "axis": {"values": [0,5,10,15,20,25,30,35,40,45,50,55,60,65,70,75,80,85,90,95,100], "labelExpr": "datum.value % 20 === 0 ? datum.label : ''", "grid": true, "gridColor": {"condition": {"test": "datum.value % 20 !== 0", "value": "#c8c8c8"}, "value": "#dcdcdc"}, "gridDash": {"condition": {"test": "datum.value % 20 !== 0", "value": [1, 3]}, "value": []}, "tickOpacity": {"condition": {"test": "datum.value % 20 !== 0", "value": 0}, "value": 1}, "tickSize": -5, "labelFontSize": 17.5, "labelPadding": 12, "title": "% of Total Loss (Sa+Sd=100%)", "titleFontSize": 19.5, "titlePadding": 10}},
          "stroke": {"field": "s", "type": "nominal", "legend": null,
            "scale": {"domain": ["SaDuct= 15","SaDuct= 20","SaDuct= 25","SaDuct= 30","SaDuct= 35","SaDuct= 40","SdDuct= 15","SdDuct= 20","SdDuct= 25","SdDuct= 30","SdDuct= 35","SdDuct= 40"],
                      "range": ["#ff0000","#00ff00","#0000ff","#800000","#008000","#000080","#ff0000","#00ff00","#0000ff","#800000","#008000","#000080"]}}
        }
      },
      {
        "mark": {"type": "point", "size": 110, "strokeWidth": 1, "opacity": 1},
        "encoding": {
          "x": {"field": "x", "type": "quantitative", "scale": {"domain": [0, 4], "nice": false, "zero": false},
                "axis": {"values": [0,0.2,0.4,0.6,0.8,1,1.2,1.4,1.6,1.8,2,2.2,2.4,2.6,2.8,3,3.2,3.4,3.6,3.8,4], "format": "~g", "labelExpr": "datum.value % 1 === 0 ? datum.label : ''", "grid": true, "gridColor": {"condition": {"test": "datum.value % 1 !== 0", "value": "#c8c8c8"}, "value": "#dcdcdc"}, "gridDash": {"condition": {"test": "datum.value % 1 !== 0", "value": [1, 3]}, "value": []}, "tickOpacity": {"condition": {"test": "datum.value % 1 !== 0", "value": 0}, "value": 1}, "tickSize": -5, "labelFontSize": 17.5, "labelPadding": 20, "title": "fy/fe [0=Hysteretic]", "titleFontSize": 20, "titlePadding": 5}},
          "y": {"field": "y", "type": "quantitative", "scale": {"domain": [0, 100], "nice": false, "zero": false},
                "axis": {"values": [0,5,10,15,20,25,30,35,40,45,50,55,60,65,70,75,80,85,90,95,100], "labelExpr": "datum.value % 20 === 0 ? datum.label : ''", "grid": true, "gridColor": {"condition": {"test": "datum.value % 20 !== 0", "value": "#c8c8c8"}, "value": "#dcdcdc"}, "gridDash": {"condition": {"test": "datum.value % 20 !== 0", "value": [1, 3]}, "value": []}, "tickOpacity": {"condition": {"test": "datum.value % 20 !== 0", "value": 0}, "value": 1}, "tickSize": -5, "labelFontSize": 17.5, "labelPadding": 12, "title": "% of Total Loss (Sa+Sd=100%)", "titleFontSize": 19.5, "titlePadding": 10}},
          "shape": {"field": "s", "type": "nominal", "legend": null,
            "scale": {"domain": ["SaDuct= 15","SaDuct= 20","SaDuct= 25","SaDuct= 30","SaDuct= 35","SaDuct= 40","SdDuct= 15","SdDuct= 20","SdDuct= 25","SdDuct= 30","SdDuct= 35","SdDuct= 40"],
                      "range": ["M1,0A1,1,0,1,1,-1,0A1,1,0,1,1,1,0Z","M-0.72,-0.72L0.72,-0.72L0.72,0.72L-0.72,0.72Z","M0,-1.05L0.78,0L0,1.05L-0.78,0Z","M0,-1L0.95,0.7L-0.95,0.7Z","M0,1L0.95,-0.7L-0.95,-0.7Z","M1,0L-0.7,-0.95L-0.7,0.95Z","M1,0A1,1,0,1,1,-1,0A1,1,0,1,1,1,0Z","M-0.72,-0.72L0.72,-0.72L0.72,0.72L-0.72,0.72Z","M0,-1.05L0.78,0L0,1.05L-0.78,0Z","M0,-1L0.95,0.7L-0.95,0.7Z","M0,1L0.95,-0.7L-0.95,-0.7Z","M1,0L-0.7,-0.95L-0.7,0.95Z"]}},
          "stroke": {"field": "s", "type": "nominal", "legend": null,
            "scale": {"domain": ["SaDuct= 15","SaDuct= 20","SaDuct= 25","SaDuct= 30","SaDuct= 35","SaDuct= 40","SdDuct= 15","SdDuct= 20","SdDuct= 25","SdDuct= 30","SdDuct= 35","SdDuct= 40"],
                      "range": ["#ff0000","#00ff00","#0000ff","#800000","#008000","#000080","#ff0000","#00ff00","#0000ff","#800000","#008000","#000080"]}},
          "fill": {"field": "s", "type": "nominal", "legend": null,
            "scale": {"domain": ["SaDuct= 15","SaDuct= 20","SaDuct= 25","SaDuct= 30","SaDuct= 35","SaDuct= 40","SdDuct= 15","SdDuct= 20","SdDuct= 25","SdDuct= 30","SdDuct= 35","SdDuct= 40"],
                      "range": ["transparent","transparent","transparent","transparent","transparent","transparent","#ff0000","#00ff00","#0000ff","#800000","#008000","#000080"]}}
        }
      },
      {
        "transform": [{"filter": "datum.x > 100"}],
        "mark": {"type": "point", "size": 110, "strokeWidth": 1, "opacity": 1},
        "encoding": {
          "x": {"field": "x", "type": "quantitative", "scale": {"domain": [0, 4], "nice": false, "zero": false},
                "axis": {"values": [0,0.2,0.4,0.6,0.8,1,1.2,1.4,1.6,1.8,2,2.2,2.4,2.6,2.8,3,3.2,3.4,3.6,3.8,4], "format": "~g", "labelExpr": "datum.value % 1 === 0 ? datum.label : ''", "grid": true, "gridColor": {"condition": {"test": "datum.value % 1 !== 0", "value": "#c8c8c8"}, "value": "#dcdcdc"}, "gridDash": {"condition": {"test": "datum.value % 1 !== 0", "value": [1, 3]}, "value": []}, "tickOpacity": {"condition": {"test": "datum.value % 1 !== 0", "value": 0}, "value": 1}, "tickSize": -5, "labelFontSize": 17.5, "labelPadding": 20, "title": "fy/fe [0=Hysteretic]", "titleFontSize": 20, "titlePadding": 5}},
          "y": {"field": "y", "type": "quantitative", "scale": {"domain": [0, 100], "nice": false, "zero": false},
                "axis": {"values": [0,5,10,15,20,25,30,35,40,45,50,55,60,65,70,75,80,85,90,95,100], "labelExpr": "datum.value % 20 === 0 ? datum.label : ''", "grid": true, "gridColor": {"condition": {"test": "datum.value % 20 !== 0", "value": "#c8c8c8"}, "value": "#dcdcdc"}, "gridDash": {"condition": {"test": "datum.value % 20 !== 0", "value": [1, 3]}, "value": []}, "tickOpacity": {"condition": {"test": "datum.value % 20 !== 0", "value": 0}, "value": 1}, "tickSize": -5, "labelFontSize": 17.5, "labelPadding": 12, "title": "% of Total Loss (Sa+Sd=100%)", "titleFontSize": 19.5, "titlePadding": 10}},
          "shape": {"field": "s", "type": "nominal",
            "legend": {"title": null, "orient": "none", "legendX": 112, "legendY": 83, "columns": 2, "columnPadding": 4, "rowPadding": 13.9, "labelFontSize": 17, "labelOffset": 42, "symbolSize": 110, "symbolStrokeWidth": 1, "symbolOpacity": 1, "padding": 0},
            "scale": {"domain": ["SaDuct= 15","SaDuct= 20","SaDuct= 25","SaDuct= 30","SaDuct= 35","SaDuct= 40","SdDuct= 15","SdDuct= 20","SdDuct= 25","SdDuct= 30","SdDuct= 35","SdDuct= 40"],
                      "range": ["M-2.6,0L-1,0M1,0L8.5,0M1,0A1,1,0,1,1,-1,0A1,1,0,1,1,1,0Z","M-2.6,0L-0.72,0M0.72,0L8.5,0M-0.72,-0.72L0.72,-0.72L0.72,0.72L-0.72,0.72Z","M-2.6,0L-0.78,0M0.78,0L8.5,0M0,-1.05L0.78,0L0,1.05L-0.78,0Z","M-2.6,0L8.5,0M0,-1L0.95,0.7L-0.95,0.7Z","M-2.6,0L8.5,0M0,1L0.95,-0.7L-0.95,-0.7Z","M-2.6,0L-0.7,0M1,0L8.5,0M1,0L-0.7,-0.95L-0.7,0.95Z","M-2.6,0L-1,0M1,0L8.5,0M1,0A1,1,0,1,1,-1,0A1,1,0,1,1,1,0Z","M-2.6,0L-0.72,0M0.72,0L8.5,0M-0.72,-0.72L0.72,-0.72L0.72,0.72L-0.72,0.72Z","M-2.6,0L-0.78,0M0.78,0L8.5,0M0,-1.05L0.78,0L0,1.05L-0.78,0Z","M-2.6,0L8.5,0M0,-1L0.95,0.7L-0.95,0.7Z","M-2.6,0L8.5,0M0,1L0.95,-0.7L-0.95,-0.7Z","M-2.6,0L-0.7,0M1,0L8.5,0M1,0L-0.7,-0.95L-0.7,0.95Z"]}},
          "stroke": {"field": "s", "type": "nominal",
            "legend": {"title": null, "orient": "none", "legendX": 112, "legendY": 83, "columns": 2, "columnPadding": 4, "rowPadding": 13.9, "labelFontSize": 17, "labelOffset": 42, "symbolSize": 110, "symbolStrokeWidth": 1, "symbolOpacity": 1, "padding": 0},
            "scale": {"domain": ["SaDuct= 15","SaDuct= 20","SaDuct= 25","SaDuct= 30","SaDuct= 35","SaDuct= 40","SdDuct= 15","SdDuct= 20","SdDuct= 25","SdDuct= 30","SdDuct= 35","SdDuct= 40"],
                      "range": ["#ff0000","#00ff00","#0000ff","#800000","#008000","#000080","#ff0000","#00ff00","#0000ff","#800000","#008000","#000080"]}},
          "fill": {"field": "s", "type": "nominal",
            "legend": {"title": null, "orient": "none", "legendX": 112, "legendY": 83, "columns": 2, "columnPadding": 4, "rowPadding": 13.9, "labelFontSize": 17, "labelOffset": 42, "symbolSize": 110, "symbolStrokeWidth": 1, "symbolOpacity": 1, "padding": 0},
            "scale": {"domain": ["SaDuct= 15","SaDuct= 20","SaDuct= 25","SaDuct= 30","SaDuct= 35","SaDuct= 40","SdDuct= 15","SdDuct= 20","SdDuct= 25","SdDuct= 30","SdDuct= 35","SdDuct= 40"],
                      "range": ["transparent","transparent","transparent","transparent","transparent","transparent","#ff0000","#00ff00","#0000ff","#800000","#008000","#000080"]}}
        }
      },
      {
        "data": {"values": [{"label": "(c)"}]},
        "mark": {"type": "text", "font": "Liberation Serif", "fontWeight": "bold", "fontSize": 30, "color": "#000000"},
        "encoding": {
          "x": {"datum": 0.52, "type": "quantitative", "scale": {"domain": [0, 4], "nice": false, "zero": false},
                "axis": {"values": [0,0.2,0.4,0.6,0.8,1,1.2,1.4,1.6,1.8,2,2.2,2.4,2.6,2.8,3,3.2,3.4,3.6,3.8,4], "format": "~g", "labelExpr": "datum.value % 1 === 0 ? datum.label : ''", "grid": true, "gridColor": {"condition": {"test": "datum.value % 1 !== 0", "value": "#c8c8c8"}, "value": "#dcdcdc"}, "gridDash": {"condition": {"test": "datum.value % 1 !== 0", "value": [1, 3]}, "value": []}, "tickOpacity": {"condition": {"test": "datum.value % 1 !== 0", "value": 0}, "value": 1}, "tickSize": -5, "labelFontSize": 17.5, "labelPadding": 20, "title": "fy/fe [0=Hysteretic]", "titleFontSize": 20, "titlePadding": 5}},
          "y": {"datum": 85.8, "type": "quantitative", "scale": {"domain": [0, 100], "nice": false, "zero": false},
                "axis": {"values": [0,5,10,15,20,25,30,35,40,45,50,55,60,65,70,75,80,85,90,95,100], "labelExpr": "datum.value % 20 === 0 ? datum.label : ''", "grid": true, "gridColor": {"condition": {"test": "datum.value % 20 !== 0", "value": "#c8c8c8"}, "value": "#dcdcdc"}, "gridDash": {"condition": {"test": "datum.value % 20 !== 0", "value": [1, 3]}, "value": []}, "tickOpacity": {"condition": {"test": "datum.value % 20 !== 0", "value": 0}, "value": 1}, "tickSize": -5, "labelFontSize": 17.5, "labelPadding": 12, "title": "% of Total Loss (Sa+Sd=100%)", "titleFontSize": 19.5, "titlePadding": 10}},
          "text": {"field": "label", "type": "nominal"}
        }
      }
    ]
    }
    ]
  }
  ]
}
]
}
